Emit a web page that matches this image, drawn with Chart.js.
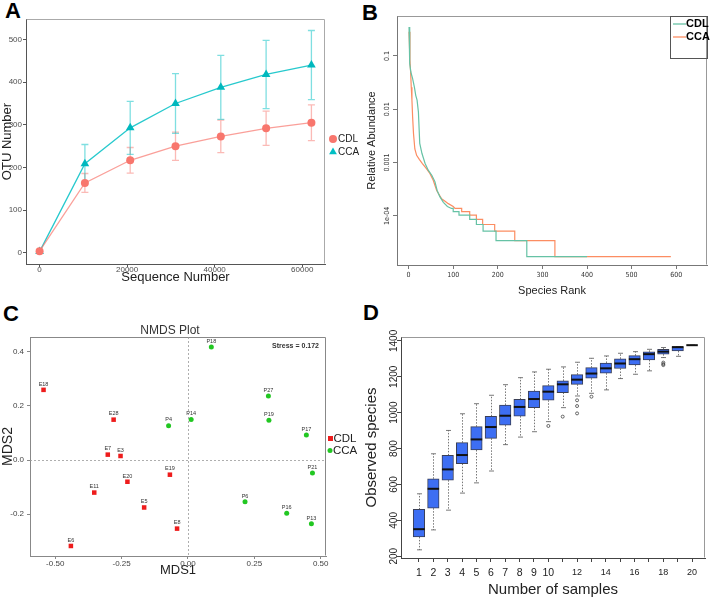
<!DOCTYPE html>
<html>
<head>
<meta charset="utf-8">
<script src="https://cdn.jsdelivr.net/npm/chart.js@4.4.0/dist/chart.umd.min.js"></script>
<style>
	body { margin: 0; background: #fff; width: 710px; height: 598px; position: relative; overflow: hidden; font-family: 'Liberation Sans', Arial, sans-serif; }
	canvas { position: absolute; }
	.tag { position: absolute; font-weight: bold; font-size: 22px; line-height: 1; color: #000; }
</style>
</head>
<body>
<div class="tag" style="left:5px;top:0px">A</div>
<div class="tag" style="left:362px;top:2px">B</div>
<div class="tag" style="left:3px;top:303px">C</div>
<div class="tag" style="left:363px;top:302px">D</div>
<canvas id="chartA" width="360" height="290" style="left:0;top:0"></canvas>
<canvas id="chartB" width="350" height="298" style="left:360px;top:0"></canvas>
<canvas id="chartC" width="360" height="303" style="left:0;top:295px"></canvas>
<canvas id="chartD" width="350" height="303" style="left:360px;top:295px"></canvas>
<script>
// --- A : rarefaction curves
const depth = [0, 10350, 20700, 31050, 41400, 51750, 62100];
const cdlOtu = [4, 164, 217, 250, 273, 292, 305];
const cdlOtuErr = [0, 22, 30, 33, 38, 40, 42];
const ccaOtu = [3, 209, 293, 350, 388, 418, 440];
const ccaOtuErr = [0, 45, 62, 70, 75, 80, 81];
const depthTicks = [0, 20000, 40000, 60000];
const otuTicks = [0, 100, 200, 300, 400, 500];

// --- B : rank abundance (rank where abundance changes)
const cdlRank = [1, 2, 3, 5, 9, 13, 16, 19, 22, 25, 30, 37, 44, 52, 59, 64, 70, 78, 87, 96,
	100, 100, 113, 113, 137, 137, 152, 152, 167, 167, 196, 196, 265, 265, 400];
const cdlAbund = [0.35, 0.128, 0.0718, 0.05, 0.0376, 0.026, 0.0183, 0.0148, 0.0089, 0.0023, 0.00148, 0.00096, 0.00072, 0.00058, 0.00044, 0.0003, 0.00023, 0.00018, 0.00015, 0.000138,
	0.000138, 0.00012, 0.00012, 0.000103, 0.000103, 0.000086, 0.000086, 0.000069, 0.000069, 0.000052, 0.000052, 0.0000345, 0.0000345, 0.0000172, 0.0000172];
const ccaRank = [1, 3, 4.5, 6, 7.5, 9, 11, 14, 18, 24, 31, 40, 48, 55, 63, 74, 81, 89, 100,
	104, 119, 119, 137, 137, 152, 152, 166, 166, 193, 193, 238, 238, 328, 328, 588];
const ccaAbund = [0.286, 0.083, 0.05, 0.026, 0.0148, 0.0072, 0.0035, 0.0018, 0.00137, 0.00115, 0.00096, 0.00077, 0.00062, 0.00047, 0.0003, 0.00021, 0.00019, 0.00017, 0.00015,
	0.000138, 0.000138, 0.00012, 0.00012, 0.000103, 0.000103, 0.000086, 0.000086, 0.000069, 0.000069, 0.000052, 0.000052, 0.0000345, 0.0000345, 0.0000172, 0.0000172];
const rankTicks = [0, 100, 200, 300, 400, 500, 600];
const abundTicks = [0.0001, 0.001, 0.01, 0.1];
const abundTickLabels = ['1e-04', '0.001', '0.01', '0.1'];

// --- C : NMDS
const cdlSamples = ['E18', 'E28', 'E7', 'E3', 'E20', 'E19', 'E11', 'E5', 'E8', 'E6'];
const cdlMds1 = [-0.544, -0.280, -0.302, -0.254, -0.228, -0.068, -0.353, -0.165, -0.041, -0.441];
const cdlMds2 = [0.259, 0.149, 0.020, 0.015, -0.080, -0.054, -0.120, -0.175, -0.253, -0.317];
const ccaSamples = ['P18', 'P27', 'P19', 'P14', 'P4', 'P17', 'P21', 'P6', 'P16', 'P13'];
const ccaMds1 = [0.088, 0.303, 0.305, 0.012, -0.073, 0.446, 0.469, 0.215, 0.372, 0.465];
const ccaMds2 = [0.417, 0.236, 0.147, 0.150, 0.127, 0.092, -0.048, -0.154, -0.196, -0.235];
const mds1Ticks = [-0.5, -0.25, 0, 0.25, 0.5];
const mds2Ticks = [-0.2, 0, 0.2, 0.4];

// --- D : species accumulation boxplots
const samples = [1, 2, 3, 4, 5, 6, 7, 8, 9, 10, 11, 12, 13, 14, 15, 16, 17, 18, 19, 20];
const sampleTickLabels = ['1', '2', '3', '4', '5', '6', '7', '8', '9', '10', '', '12', '', '14', '', '16', '', '18', '', '20'];
const whiskLow = [236, 347, 457, 552, 609, 675, 822, 864, 894, 950, 1028, 1093, 1108, 1127, 1190, 1214, 1233, 1307, 1314, 1376];
const q1 = [308, 468, 624, 716, 792, 857, 931, 981, 1028, 1069, 1112, 1158, 1192, 1220, 1246, 1266, 1294, 1326, 1344, 1376];
const med = [351, 576, 684, 764, 851, 920, 983, 1032, 1076, 1117, 1158, 1184, 1218, 1247, 1274, 1298, 1326, 1340, 1365, 1376];
const q3 = [461, 632, 762, 833, 922, 980, 1043, 1074, 1121, 1151, 1177, 1212, 1251, 1277, 1300, 1318, 1339, 1353, 1368, 1376];
const whiskHigh = [548, 771, 901, 994, 1050, 1097, 1156, 1195, 1227, 1242, 1255, 1281, 1303, 1316, 1331, 1340, 1353, 1363, 1368, 1376];
const outlierX = [10, 11, 12, 12, 12, 13, 18, 18, 18];
const outlierY = [926, 978, 1069, 1037, 996, 1089, 1279, 1271, 1265];
const speciesTicks = [200, 400, 600, 800, 1000, 1200, 1400];

const SANS = "'Liberation Sans', Arial, sans-serif";
const NARROW = "'Liberation Sans Narrow', 'DejaVu Sans Condensed', 'Liberation Sans', sans-serif";
Chart.defaults.font.family = SANS;
Chart.defaults.animation = false;
Chart.defaults.responsive = false;
Chart.defaults.plugins.legend.display = false;
Chart.defaults.plugins.tooltip.enabled = false;

const fixW = w => s => { s.width = w; };
const fixH = h => s => { s.height = h; };
const setTicks = vals => s => { s.ticks = vals.map(v => ({ value: v })); };
const pts = (xs, ys) => xs.map((x, i) => ({ x: x, y: ys[i] }));
const plain = v => String(v);

// frame on top/right sides (left/bottom are the axis lines)
function frame(color) {
	return {
		id: 'frame',
		beforeDatasetsDraw(chart) {
			const { ctx, chartArea: a } = chart;
			const l = Math.round(a.left) + 0.5, r = Math.round(a.right) - 0.5;
			const t = Math.round(a.top) + 0.5, b = Math.round(a.bottom) - 0.5;
			ctx.save();
			ctx.strokeStyle = color;
			ctx.lineWidth = 1;
			ctx.beginPath();
			ctx.moveTo(l, t); ctx.lineTo(r, t); ctx.lineTo(r, b);
			ctx.stroke();
			ctx.restore();
		}
	};
}

function axis(color, tickLen) {
	return {
		grid: { drawOnChartArea: false, drawTicks: true, tickLength: tickLen, tickColor: color, color: color, offset: false },
		border: { display: true, color: color, width: 1 }
	};
}

// ---------------- A
const errorBars = {
	id: 'errorBars',
	beforeDatasetsDraw(chart) {
		const { ctx, scales: { x, y } } = chart;
		const sets = [[cdlOtu, cdlOtuErr, 'rgba(248,118,109,0.5)'], [ccaOtu, ccaOtuErr, 'rgba(0,191,196,0.5)']];
		ctx.save();
		ctx.lineWidth = 1.3;
		sets.forEach(([m, e, c]) => {
			ctx.strokeStyle = c;
			depth.forEach((d, i) => {
				if (!e[i]) return;
				const px = x.getPixelForValue(d);
				const top = y.getPixelForValue(m[i] + e[i]);
				const bot = y.getPixelForValue(m[i] - e[i]);
				ctx.beginPath();
				ctx.moveTo(px, top); ctx.lineTo(px, bot);
				ctx.moveTo(px - 3.5, top); ctx.lineTo(px + 3.5, top);
				ctx.moveTo(px - 3.5, bot); ctx.lineTo(px + 3.5, bot);
				ctx.stroke();
			});
		});
		ctx.restore();
	}
};

const legendA = {
	id: 'legendA',
	afterDraw(chart) {
		const ctx = chart.ctx;
		ctx.save();
		ctx.fillStyle = '#F8766D';
		ctx.beginPath(); ctx.arc(333, 139, 4, 0, Math.PI * 2); ctx.fill();
		ctx.fillStyle = '#00BFC4';
		ctx.strokeStyle = '#00BFC4';
		Chart.helpers.drawPoint(ctx, { pointStyle: 'triangle', radius: 4.5, borderWidth: 0 }, 333, 152);
		ctx.fillStyle = '#222';
		ctx.font = '10px ' + SANS;
		ctx.textBaseline = 'middle';
		ctx.fillText('CDL', 338, 139);
		ctx.fillText('CCA', 338, 152);
		ctx.restore();
	}
};

new Chart(document.getElementById('chartA'), {
	type: 'line',
	data: {
		datasets: [
			{
				label: 'CDL',
				data: pts(depth, cdlOtu),
				borderColor: 'rgba(248,118,109,0.7)',
				backgroundColor: '#F8766D',
				pointBorderColor: '#F8766D',
				borderWidth: 1.3,
				pointStyle: 'circle',
				pointRadius: 4,
				pointBorderWidth: 0
			},
			{
				label: 'CCA',
				data: pts(depth, ccaOtu),
				borderColor: 'rgba(0,191,196,0.85)',
				backgroundColor: '#00B8BE',
				pointBorderColor: '#00B8BE',
				borderWidth: 1.3,
				pointStyle: 'triangle',
				pointRadius: 5,
				pointBorderWidth: 0
			}
		]
	},
	options: {
		layout: { padding: { left: 0, right: 35, top: 19, bottom: 5 } },
		scales: {
			x: Object.assign({
				type: 'linear', min: -3105, max: 65205,
				afterFit: fixH(21),
				afterBuildTicks: setTicks(depthTicks),
				ticks: { font: { size: 8 }, color: '#4d4d4d', padding: -2, maxRotation: 0, autoSkip: false, callback: plain },
				title: { display: true, text: 'Sequence Number', font: { size: 13 }, color: '#222', padding: 0 }
			}, axis('#555', 3)),
			y: Object.assign({
				type: 'linear', min: -26, max: 548,
				afterFit: fixW(26),
				afterBuildTicks: setTicks(otuTicks),
				ticks: { font: { size: 8 }, color: '#4d4d4d', padding: 1, callback: plain },
				title: { display: true, text: 'OTU Number', font: { size: 13 }, color: '#222', padding: 0 }
			}, axis('#555', 3))
		}
	},
	plugins: [frame('#aaa'), errorBars, legendA]
});

// ---------------- B
const legendB = {
	id: 'legendB',
	afterDraw(chart) {
		const ctx = chart.ctx;
		ctx.save();
		ctx.strokeStyle = '#555';
		ctx.lineWidth = 1;
		ctx.strokeRect(310.5, 16.5, 37, 42);
		ctx.lineWidth = 1.3;
		ctx.strokeStyle = '#66C2A5';
		ctx.beginPath(); ctx.moveTo(313, 24); ctx.lineTo(326, 24); ctx.stroke();
		ctx.strokeStyle = '#FC8D62';
		ctx.beginPath(); ctx.moveTo(313, 37); ctx.lineTo(326, 37); ctx.stroke();
		ctx.fillStyle = '#000';
		ctx.font = 'bold 11px ' + SANS;
		ctx.textBaseline = 'middle';
		ctx.fillText('CDL', 326, 24);
		ctx.fillText('CCA', 326, 37);
		ctx.restore();
	}
};

new Chart(document.getElementById('chartB'), {
	type: 'line',
	data: {
		datasets: [
			{ label: 'CDL', data: pts(cdlRank, cdlAbund), borderColor: '#66C2A5', borderWidth: 1.2, pointRadius: 0, tension: 0 },
			{ label: 'CCA', data: pts(ccaRank, ccaAbund), borderColor: '#FC8D62', borderWidth: 1.2, pointRadius: 0, tension: 0 }
		]
	},
	options: {
		layout: { padding: { left: 5, right: 3, top: 16, bottom: 0 } },
		scales: {
			x: Object.assign({
				type: 'linear', min: -26, max: 669,
				afterFit: fixH(33),
				afterBuildTicks: setTicks(rankTicks),
				ticks: { font: { size: 7, family: NARROW }, color: '#333', padding: 2, maxRotation: 0, autoSkip: false, callback: plain },
				title: { display: true, text: 'Species Rank', font: { size: 11 }, color: '#222', padding: 0 }
			}, axis('#777', 4)),
			y: Object.assign({
				type: 'logarithmic', min: 0.000012, max: 0.562,
				afterFit: fixW(32),
				afterBuildTicks: setTicks(abundTicks),
				ticks: {
					font: { size: 7, family: NARROW }, color: '#333', padding: -3,
					minRotation: 90, maxRotation: 90, crossAlign: 'center', autoSkip: false,
					callback: (v, i) => abundTickLabels[i]
				},
				title: { display: true, text: 'Relative Abundance', font: { size: 11 }, color: '#222', padding: 0 }
			}, axis('#777', 4))
		}
	},
	plugins: [frame('#999'), legendB]
});

// ---------------- C
const nmdsExtras = {
	id: 'nmdsExtras',
	beforeDatasetsDraw(chart) {
		const { ctx, chartArea: a, scales: { x, y } } = chart;
		const x0 = Math.round(x.getPixelForValue(0)) + 0.5;
		const y0 = Math.round(y.getPixelForValue(0)) + 0.5;
		ctx.save();
		ctx.strokeStyle = '#999';
		ctx.lineWidth = 0.8;
		ctx.setLineDash([2, 2]);
		ctx.beginPath();
		ctx.moveTo(x0, a.top); ctx.lineTo(x0, a.bottom);
		ctx.moveTo(a.left, y0); ctx.lineTo(a.right, y0);
		ctx.stroke();
		ctx.restore();
	},
	afterDraw(chart) {
		const { ctx, chartArea: a } = chart;
		ctx.save();
		ctx.fillStyle = '#333';
		ctx.font = '5.5px ' + SANS;
		ctx.textAlign = 'center';
		ctx.textBaseline = 'bottom';
		[cdlSamples, ccaSamples].forEach((names, d) => {
			chart.getDatasetMeta(d).data.forEach((p, i) => ctx.fillText(names[i], p.x, p.y - 3));
		});
		ctx.font = '12px ' + SANS;
		ctx.textBaseline = 'middle';
		ctx.fillText('NMDS Plot', 170, 36);
		ctx.font = 'bold 7px ' + SANS;
		ctx.textAlign = 'right';
		ctx.fillText('Stress = 0.172', a.right - 7, a.top + 9);
		// legend
		ctx.fillStyle = '#ee1c1c';
		ctx.fillRect(328, 141, 5, 5);
		ctx.fillStyle = '#22c722';
		ctx.beginPath(); ctx.arc(330, 155.5, 2.5, 0, Math.PI * 2); ctx.fill();
		ctx.fillStyle = '#222';
		ctx.font = '11.5px ' + SANS;
		ctx.textAlign = 'left';
		ctx.fillText('CDL', 333.5, 143.5);
		ctx.fillText('CCA', 333, 156);
		ctx.restore();
	}
};

new Chart(document.getElementById('chartC'), {
	type: 'scatter',
	data: {
		datasets: [
			{ label: 'CDL', data: pts(cdlMds1, cdlMds2), pointStyle: 'rect', pointRadius: 3.2, backgroundColor: '#ee1c1c', borderWidth: 0 },
			{ label: 'CCA', data: pts(ccaMds1, ccaMds2), pointStyle: 'circle', pointRadius: 2.5, backgroundColor: '#22c722', borderWidth: 0 }
		]
	},
	options: {
		layout: { padding: { left: 0, right: 34, top: 42, bottom: 20 } },
		scales: {
			x: Object.assign({
				type: 'linear', min: -0.595, max: 0.52,
				afterFit: fixH(22),
				afterBuildTicks: setTicks(mds1Ticks),
				ticks: { font: { size: 8 }, color: '#444', padding: 0, maxRotation: 0, autoSkip: false, callback: v => v.toFixed(2) },
				title: { display: true, text: 'MDS1', font: { size: 13 }, color: '#222', padding: 0 }
			}, axis('#888', 3)),
			y: Object.assign({
				type: 'linear', min: -0.354, max: 0.454,
				afterFit: fixW(30),
				afterBuildTicks: setTicks(mds2Ticks),
				ticks: { font: { size: 8 }, color: '#444', padding: 3, autoSkip: false, callback: v => v.toFixed(1) },
				title: { display: true, text: 'MDS2', font: { size: 14 }, color: '#222', padding: 0 }
			}, axis('#888', 3))
		}
	},
	plugins: [frame('#888'), nmdsExtras]
});

// ---------------- D
const BOX_W = 11.5;
const boxParts = {
	id: 'boxParts',
	beforeDatasetsDraw(chart) {
		const { ctx, scales: { x, y } } = chart;
		ctx.save();
		ctx.strokeStyle = '#555';
		ctx.lineWidth = 0.8;
		samples.forEach((n, i) => {
			const px = Math.round(x.getPixelForValue(n)) + 0.5;
			const lo = y.getPixelForValue(whiskLow[i]), a = y.getPixelForValue(q1[i]);
			const hi = y.getPixelForValue(whiskHigh[i]), b = y.getPixelForValue(q3[i]);
			ctx.setLineDash([1.5, 1.5]);
			ctx.beginPath();
			ctx.moveTo(px, b); ctx.lineTo(px, hi);
			ctx.moveTo(px, a); ctx.lineTo(px, lo);
			ctx.stroke();
			ctx.setLineDash([]);
			ctx.beginPath();
			ctx.moveTo(px - 2.5, hi); ctx.lineTo(px + 2.5, hi);
			ctx.moveTo(px - 2.5, lo); ctx.lineTo(px + 2.5, lo);
			ctx.stroke();
		});
		ctx.restore();
	},
	afterDatasetsDraw(chart) {
		const { ctx, scales: { x, y } } = chart;
		ctx.save();
		ctx.strokeStyle = '#111';
		ctx.lineWidth = 2;
		samples.forEach((n, i) => {
			const px = x.getPixelForValue(n);
			const m = y.getPixelForValue(med[i]);
			ctx.beginPath();
			ctx.moveTo(px - BOX_W / 2, m); ctx.lineTo(px + BOX_W / 2, m);
			ctx.stroke();
		});
		ctx.restore();
	}
};

new Chart(document.getElementById('chartD'), {
	type: 'bar',
	data: {
		datasets: [
			{
				type: 'bar',
				data: samples.map((n, i) => ({ x: n, y: [q1[i], q3[i]] })),
				backgroundColor: '#3d6ef3',
				borderColor: '#3a3f55',
				borderWidth: 1,
				borderSkipped: false,
				barThickness: BOX_W,
				grouped: false
			},
			{
				type: 'scatter',
				data: pts(outlierX, outlierY),
				pointStyle: 'circle',
				pointRadius: 1.5,
				borderColor: '#444',
				backgroundColor: 'rgba(0,0,0,0)',
				borderWidth: 0.8
			}
		]
	},
	options: {
		layout: { padding: { left: 4, right: 5, top: 42, bottom: 0.5 } },
		scales: {
			x: Object.assign({
				type: 'linear', min: -0.25, max: 20.9, offset: false,
				afterFit: fixH(39.5),
				afterBuildTicks: setTicks(samples),
				ticks: {
					font: c => ({ size: c.tick && c.tick.value > 10 ? 9 : 10.5 }),
					color: '#222', padding: 5, maxRotation: 0, minRotation: 0, autoSkip: false,
					callback: (v, i) => sampleTickLabels[i]
				},
				title: { display: true, text: 'Number of samples', font: { size: 15, lineHeight: 1 }, color: '#222', padding: 0 }
			}, axis('#444', 4)),
			y: Object.assign({
				type: 'linear', min: 190.4, max: 1421.6,
				afterFit: fixW(37),
				afterBuildTicks: setTicks(speciesTicks),
				ticks: {
					font: { size: 10 }, color: '#222', padding: -8,
					minRotation: 90, maxRotation: 90, crossAlign: 'center', autoSkip: false, callback: plain
				},
				title: { display: true, text: 'Observed species', font: { size: 15, lineHeight: 1 }, color: '#222', padding: 0 }
			}, axis('#444', 4))
		}
	},
	plugins: [frame('#999'), boxParts]
});
</script>
</body>
</html>
